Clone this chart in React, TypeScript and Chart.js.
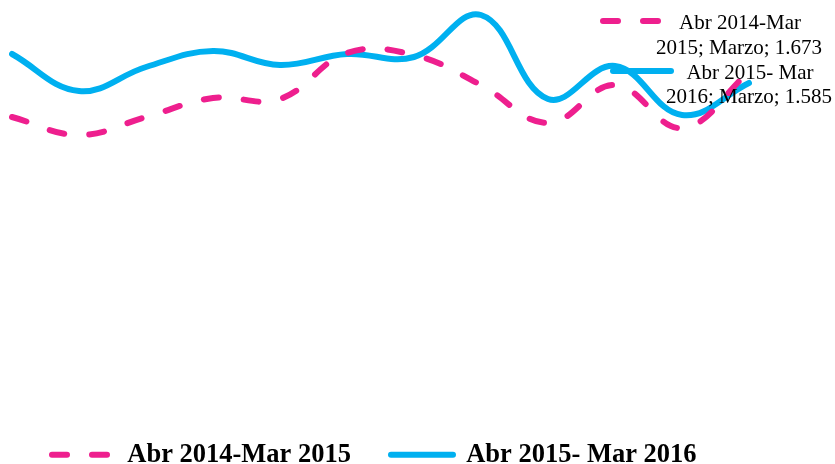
import React, { useEffect, useRef } from "react";
import { Chart, registerables } from "chart.js";

Chart.register(...registerables);

const categories = ["Abr", "May", "Jun", "Jul", "Ago", "Sep", "Oct", "Nov", "Dic", "Ene", "Feb", "Marzo"];
const seriesNames = ["Abr 2014-Mar 2015", "Abr 2015- Mar 2016"];
const labelLines1 = ["Abr 2014-Mar", "2015; Marzo; "];
const labelLines2 = ["Abr 2015- Mar", "2016; Marzo; "];
const serie1415 = [1313, 1169, 1313, 1465, 1457, 1825, 1809, 1569, 1265, 1569, 1225, 1673];
const serie1516 = [1817, 1521, 1713, 1841, 1729, 1817, 1793, 2129, 1457, 1721, 1329, 1585];
const yMin = -963;
const yMax = 2249;

const PINK = "#EE1F8E";
const BLUE = "#00B0F0";
const DASH = [15, 25];

const fmt = (v: number) => {
  const s = String(Math.round(v));
  return s.length > 3 ? s.slice(0, s.length - 3) + "." + s.slice(s.length - 3) : s;
};

const lastLabelPlugin = {
  id: "lastLabels",
  afterDatasetsDraw(chart: any) {
    const ctx = chart.ctx;
    const cfgs = [
      { ds: 0, lines: [labelLines1[0], labelLines1[1] + fmt(serie1415[serie1415.length - 1])], color: PINK, dash: DASH,
        key: [-146, -87, -51], t1: [-9, -49], t2: [-10, -24] },
      { ds: 1, lines: [labelLines2[0], labelLines2[1] + fmt(serie1516[serie1516.length - 1])], color: BLUE, dash: [],
        key: [-136, -78, -12], t1: [1, -10], t2: [0, 14] },
    ];
    ctx.save();
    for (const c of cfgs) {
      const meta = chart.getDatasetMeta(c.ds);
      const pt = meta.data[meta.data.length - 1];
      const x = pt.x, y = pt.y;
      ctx.beginPath();
      ctx.strokeStyle = c.color;
      ctx.lineWidth = 6;
      ctx.lineCap = "round";
      ctx.setLineDash(c.dash);
      ctx.moveTo(x + c.key[0], y + c.key[2]);
      ctx.lineTo(x + c.key[1], y + c.key[2]);
      ctx.stroke();
      ctx.setLineDash([]);
      ctx.fillStyle = "#000";
      ctx.font = "21px 'Liberation Serif'";
      ctx.textAlign = "center";
      ctx.textBaseline = "middle";
      ctx.fillText(c.lines[0], x + c.t1[0], y + c.t1[1]);
      ctx.fillText(c.lines[1], x + c.t2[0], y + c.t2[1]);
    }
    ctx.restore();
  },
};

export default function App() {
  const ref = useRef<HTMLCanvasElement | null>(null);
  useEffect(() => {
    if (!ref.current) return;
    const chart = new Chart(ref.current, {
      type: "line",
      data: {
        labels: categories,
        datasets: [
          {
            label: seriesNames[0],
            data: serie1415,
            borderColor: PINK,
            backgroundColor: PINK,
            borderWidth: 6,
            borderDash: DASH,
            borderCapStyle: "round",
            pointRadius: 0,
            tension: 0.4,
            fill: false,
          },
          {
            label: seriesNames[1],
            data: serie1516,
            borderColor: BLUE,
            backgroundColor: BLUE,
            borderWidth: 6,
            borderCapStyle: "round",
            pointRadius: 0,
            tension: 0.4,
            fill: false,
          },
        ],
      },
      options: {
        responsive: true,
        maintainAspectRatio: false,
        animation: false,
        layout: { padding: { left: 12, right: 86, top: 0, bottom: 0 } },
        scales: {
          x: { display: false },
          y: { display: false, min: yMin, max: yMax },
        },
        plugins: {
          tooltip: { enabled: false },
          legend: {
            position: "bottom",
            align: "start",
            labels: {
              usePointStyle: true,
              pointStyleWidth: 62,
              padding: 40,
              color: "#000",
              font: { family: "'Liberation Serif'", size: 26.5, weight: "bold" },
              generateLabels(ch: any) {
                return ch.data.datasets.map((d: any, i: number) => ({
                  text: d.label,
                  fillStyle: d.borderColor,
                  strokeStyle: d.borderColor,
                  fontColor: "#000",
                  lineWidth: 6,
                  lineCap: "round",
                  lineDash: d.borderDash || [],
                  pointStyle: "line",
                  hidden: false,
                  datasetIndex: i,
                }));
              },
            },
          },
        },
      },
      plugins: [lastLabelPlugin],
    });
    return () => chart.destroy();
  }, []);
  return (
    <div style={{ position: "absolute", left: 0, top: 0, width: 835, height: 464, overflow: "hidden", background: "#fff" }}>
      <div style={{ position: "relative", width: 835, height: 478 }}>
        <canvas ref={ref} />
      </div>
    </div>
  );
}
